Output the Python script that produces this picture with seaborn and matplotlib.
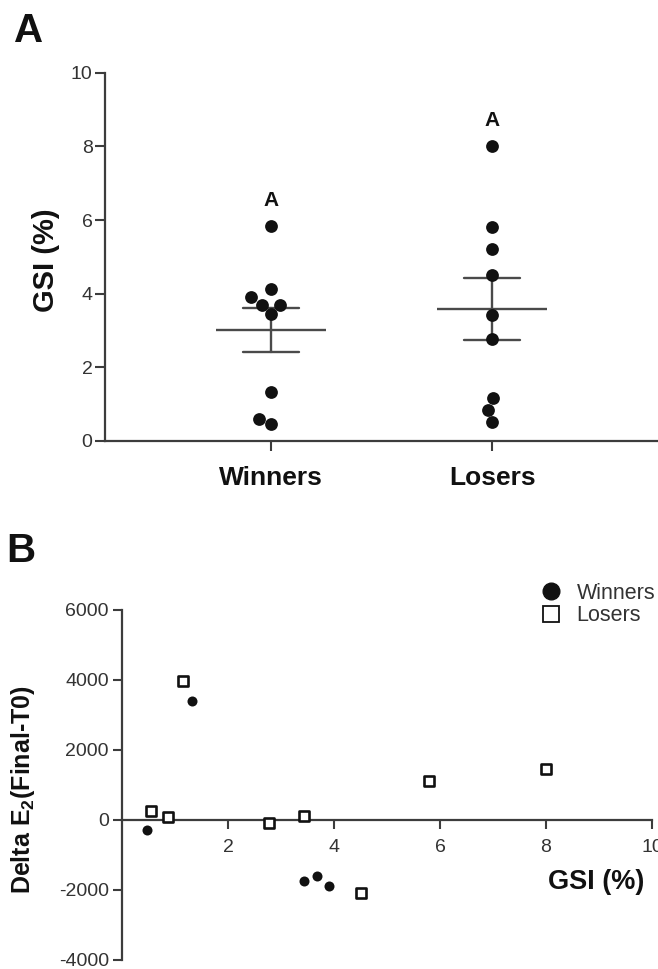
import numpy as np
import pandas as pd
import matplotlib
matplotlib.use('Agg')
import matplotlib.pyplot as plt
from matplotlib.lines import Line2D
import seaborn as sns

# ==============================================================================
# DADOS
# ==============================================================================
grupos = ['Winners', 'Losers']
gsi_winners = [5.84, 4.12, 3.70, 3.70, 3.91, 3.45, 1.32, 0.45, 0.59]
gsi_losers = [8.01, 5.81, 5.22, 4.51, 3.43, 2.77, 1.17, 0.85, 0.52]
letras = ['A', 'A']

# painel B: GSI vs delta E2
b_gsi_winners = [0.47, 1.32, 3.44, 3.68, 3.90]
b_e2_winners = [-290, 3410, -1735, -1610, -1875]
b_gsi_losers = [0.55, 0.86, 1.16, 2.78, 3.44, 4.51, 5.80, 8.00]
b_e2_losers = [265, 75, 3960, -90, 115, -2085, 1125, 1455]

yticks_a = [0, 2, 4, 6, 8, 10]
xticks_b = [2, 4, 6, 8, 10]
yticks_b = [-4000, -2000, 0, 2000, 4000, 6000]

# ==============================================================================
# ESTILO
# ==============================================================================
sns.set_theme(style='ticks')
plt.rcParams['font.family'] = ['Liberation Sans', 'DejaVu Sans']
plt.rcParams['mathtext.fontset'] = 'custom'
plt.rcParams['mathtext.rm'] = 'Liberation Sans'
plt.rcParams['mathtext.bf'] = 'Liberation Sans:bold'
plt.rcParams['axes.unicode_minus'] = False

cor_eixo = '#3c3c3c'
cor_linha = '#4a4a4a'

df_a = pd.DataFrame({
    'grupo': ['Winners'] * len(gsi_winners) + ['Losers'] * len(gsi_losers),
    'gsi': gsi_winners + gsi_losers,
})

fig = plt.figure(figsize=(6.58, 9.69), dpi=100)

# ==============================================================================
# PAINEL A
# ==============================================================================
ax1 = fig.add_axes([0.1596, 0.5449, 0.8404, 0.3801])

sns.pointplot(data=df_a, x='grupo', y='gsi', order=grupos, errorbar='se',
              capsize=0.25, color=cor_linha, markers='_', markersize=79,
              markeredgewidth=1.7, linestyle='none',
              err_kws={'linewidth': 1.7}, ax=ax1)
sns.swarmplot(data=df_a, x='grupo', y='gsi', order=grupos, color='#111111',
              size=9.2, zorder=4, ax=ax1)

for i, g in enumerate(grupos):
    topo = df_a.loc[df_a['grupo'] == g, 'gsi'].max()
    ax1.text(i, topo + 0.7, letras[i], ha='center', va='center',
             fontsize=15, fontweight='bold', color='#111111')

ax1.set_xlim(-0.75, 1.75)
ax1.set_ylim(0, 10)
ax1.set_yticks(yticks_a)
ax1.set_xlabel('')
ax1.set_ylabel('')
sns.despine(ax=ax1)
for s in ['left', 'bottom']:
    ax1.spines[s].set_color(cor_eixo)
    ax1.spines[s].set_linewidth(1.6)
ax1.tick_params(axis='y', length=7, width=1.5, color=cor_eixo, pad=2,
                labelsize=14, labelcolor='#333333')
ax1.tick_params(axis='x', length=7, width=1.5, color=cor_eixo, pad=11,
                labelsize=19, labelcolor='#111111')
for lab in ax1.get_xticklabels():
    lab.set_fontweight('bold')

fig.text(45.5 / 658, 1 - 260 / 969, 'GSI (%)', rotation=90, ha='center',
         va='center', fontsize=21, fontweight='bold', color='#111111')
fig.text(29 / 658, 1 - 42 / 969, 'A', ha='center', va='baseline',
         fontsize=29, fontweight='bold', color='#111111')

# ==============================================================================
# PAINEL B
# ==============================================================================
ax2 = fig.add_axes([0.1854, 0.0093, 0.8055, 0.3612])

sns.scatterplot(x=b_gsi_winners, y=b_e2_winners, marker='o', s=52,
                color='#111111', edgecolor='#111111', linewidth=0,
                zorder=4, ax=ax2)
sns.scatterplot(x=b_gsi_losers, y=b_e2_losers, marker='s', s=50,
                facecolor='white', edgecolor='#111111', linewidth=1.9,
                zorder=4, ax=ax2)

ax2.set_xlim(0, 10)
ax2.set_ylim(-4000, 6000)
ax2.set_xticks(xticks_b)
ax2.set_yticks(yticks_b)
ax2.spines['bottom'].set_position(('data', 0))
ax2.spines['top'].set_visible(False)
ax2.spines['right'].set_visible(False)
for s in ['left', 'bottom']:
    ax2.spines[s].set_color(cor_eixo)
    ax2.spines[s].set_linewidth(1.6)
ax2.tick_params(axis='both', length=6.5, width=1.5, color=cor_eixo,
                labelsize=14, labelcolor='#333333')
ax2.tick_params(axis='y', pad=3)
ax2.tick_params(axis='x', pad=7)

fig.text(23 / 658, 1 - 790 / 969, r'Delta E$_\mathbf{2}$(Final-T0)',
         rotation=90, ha='center', va='center', fontsize=18,
         fontweight='bold', color='#111111')
fig.text(596 / 658, 1 - 889 / 969, 'GSI (%)', ha='center', va='baseline',
         fontsize=19.5, fontweight='bold', color='#111111')
fig.text(21 / 658, 1 - 562 / 969, 'B', ha='center', va='baseline',
         fontsize=29, fontweight='bold', color='#111111')

handles = [
    Line2D([], [], marker='o', linestyle='none', markersize=12,
           markerfacecolor='#111111', markeredgecolor='#111111'),
    Line2D([], [], marker='s', linestyle='none', markersize=12,
           markerfacecolor='white', markeredgecolor='#111111',
           markeredgewidth=1.3),
]
fig.legend(handles, grupos, loc='upper left',
           bbox_to_anchor=(540 / 658, 1 - 583 / 969), frameon=False,
           fontsize=15.5, handlelength=1.0, handletextpad=0.7,
           labelspacing=0.05, borderpad=0, borderaxespad=0,
           labelcolor='#333333')

fig.savefig('out.png', dpi=100)
